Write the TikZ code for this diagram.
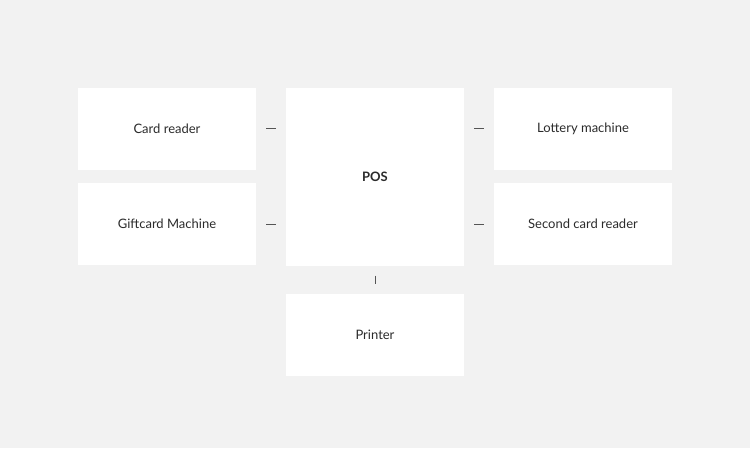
\documentclass[tikz,border=0pt]{standalone}
\usepackage{fontspec}
\setmainfont{Lato}
\definecolor{bg}{HTML}{F2F2F2}
\definecolor{txt}{HTML}{2B2B2B}
\definecolor{conn}{HTML}{555555}
\begin{document}
\begin{tikzpicture}[x=1pt,y=-1pt,
  box/.style={fill=white, draw=none, minimum width=178pt, minimum height=82pt, inner sep=0pt, text=txt, font=\fontsize{13}{15}\selectfont},
  link/.style={draw=conn, line width=1pt, shorten <=10pt, shorten >=10pt}]
\fill[bg] (0,0) rectangle (750,448);
\useasboundingbox (0,0) rectangle (750,448);
\node[box] (card) at (167,128.5) {Card reader};
\node[box] (gift) at (167,224) {Giftcard Machine};
\node[box, minimum height=178pt, font=\fontsize{13}{15}\selectfont\bfseries] (pos) at (375,176.5) {POS};
\node[box] (lottery) at (583,128.5) {Lottery machine};
\node[box] (second) at (583,224) {Second card reader};
\node[box] (printer) at (375,335) {Printer};
\draw[link] (card.east) -- (card.east -| pos.west);
\draw[link] (gift.east) -- (gift.east -| pos.west);
\draw[link] (lottery.west -| pos.east) -- (lottery.west);
\draw[link] (second.west -| pos.east) -- (second.west);
\draw[link] (pos.south) -- (printer.north);
\end{tikzpicture}
\end{document}
